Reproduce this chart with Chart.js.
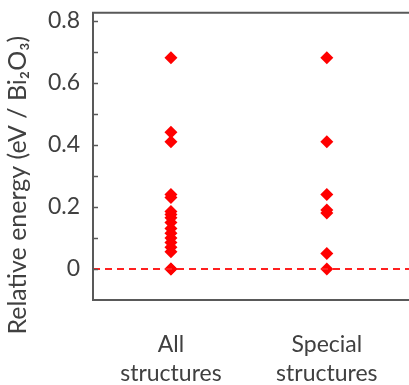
<!DOCTYPE html>
<html>
<head>
<meta charset="utf-8">
<script src="https://cdn.jsdelivr.net/npm/chart.js@4.4.0/dist/chart.umd.min.js"></script>
<style>
  html, body { margin: 0; padding: 0; background: #fff; overflow: hidden; }
  #wrap { width: 409px; height: 385px; overflow: hidden; }
  #myChart { display: block; margin-top: -14px; }
</style>
</head>
<body>
<div id="wrap"><canvas id="myChart" width="409" height="399"></canvas></div>
<script>
var categories = [['All', 'structures'], ['Special', 'structures']];
var allEnergies = [0.68, 0.44, 0.41, 0.24, 0.23, 0.185, 0.175, 0.165, 0.15, 0.13, 0.115, 0.10, 0.085, 0.07, 0.055, 0, 0];
var specialEnergies = [0.68, 0.41, 0.24, 0.19, 0.18, 0.05, 0];
var zeroX = [0.5, 2.6];
var zeroY = [0, 0];
var yLabels = [0, 0.2, 0.4, 0.6, 0.8];
var yTicks = [-0.1, 0, 0.1, 0.2, 0.3, 0.4, 0.5, 0.6, 0.7, 0.8];

function toPoints(xv, ys) {
  return ys.map(function (v) { return { x: xv, y: v }; });
}

var textColor = '#404040';
var frameColor = '#595959';

// frame and inward ticks like the original figure
var framePlugin = {
  id: 'frame',
  afterDraw: function (chart) {
    var c = chart.ctx, a = chart.chartArea, ys = chart.scales.y;
    c.save();
    c.strokeStyle = frameColor;
    c.lineWidth = 2;
    c.beginPath();
    c.moveTo(chart.width, a.top);
    c.lineTo(a.left, a.top);
    c.lineTo(a.left, a.bottom);
    c.lineTo(chart.width, a.bottom);
    c.stroke();
    c.lineWidth = 1.5;
    yTicks.forEach(function (t) {
      if (t < 0) return;
      var py = Math.round(ys.getPixelForValue(t)) + 0.5;
      c.beginPath();
      c.moveTo(a.left, py);
      c.lineTo(a.left + 5, py);
      c.stroke();
    });
    c.restore();
  }
};

var ctx = document.getElementById('myChart');
var myChart = new Chart(ctx, {
  type: 'scatter',
  data: {
    datasets: [{
      type: 'line',
      data: zeroX.map(function (x, i) { return { x: x, y: zeroY[i] }; }),
      borderColor: '#ff2020',
      borderWidth: 2,
      borderDash: [7, 5],
      pointRadius: 0,
      fill: false,
      clip: false
    }, {
      data: toPoints(1, allEnergies),
      pointStyle: 'rectRot',
      pointRadius: 6.5,
      pointBorderWidth: 0,
      backgroundColor: '#ff0000',
      borderColor: '#ff0000'
    }, {
      data: toPoints(2, specialEnergies),
      pointStyle: 'rectRot',
      pointRadius: 6.5,
      pointBorderWidth: 0,
      backgroundColor: '#ff0000',
      borderColor: '#ff0000'
    }]
  },
  plugins: [framePlugin],
  options: {
    responsive: false,
    animation: false,
    layout: { padding: { top: 0, right: 0, left: 0, bottom: 0 } },
    plugins: { legend: { display: false }, tooltip: { enabled: false } },
    scales: {
      x: {
        type: 'linear',
        min: 0.5,
        max: 2.425,
        grid: { display: false, drawTicks: false },
        border: { display: false },
        afterBuildTicks: function (s) { s.ticks = [{ value: 1 }, { value: 2 }]; },
        afterFit: function (s) { s.height = 85; },
        ticks: {
          padding: 30,
          color: textColor,
          maxRotation: 0,
          autoSkip: false,
          font: { family: 'Lato', size: 23, lineHeight: 1.25 },
          callback: function (v) { return categories[Math.round(v) - 1]; }
        }
      },
      y: {
        min: -0.1,
        max: 0.825,
        grid: { display: false, drawTicks: false },
        border: { display: false },
        afterBuildTicks: function (s) {
          s.ticks = yTicks.map(function (t) { return { value: t }; });
        },
        afterFit: function (s) { s.width = 93; },
        ticks: {
          padding: 13,
          color: textColor,
          autoSkip: false,
          font: { family: 'Lato', size: 23 },
          callback: function (v) {
            var k = Math.round(v * 10);
            for (var i = 0; i < yLabels.length; i++) {
              if (Math.round(yLabels[i] * 10) === k) return k === 0 ? '0' : (k / 10).toFixed(1);
            }
            return '';
          }
        },
        title: {
          display: true,
          text: 'Relative energy (eV / Bi₂O₃)\u00a0\u00a0\u00a0\u00a0\u00a0\u00a0\u00a0\u00a0\u00a0',
          color: textColor,
          padding: { top: 3, bottom: 0 },
          font: { family: 'Lato', size: 25 }
        }
      }
    }
  }
});
</script>
</body>
</html>
